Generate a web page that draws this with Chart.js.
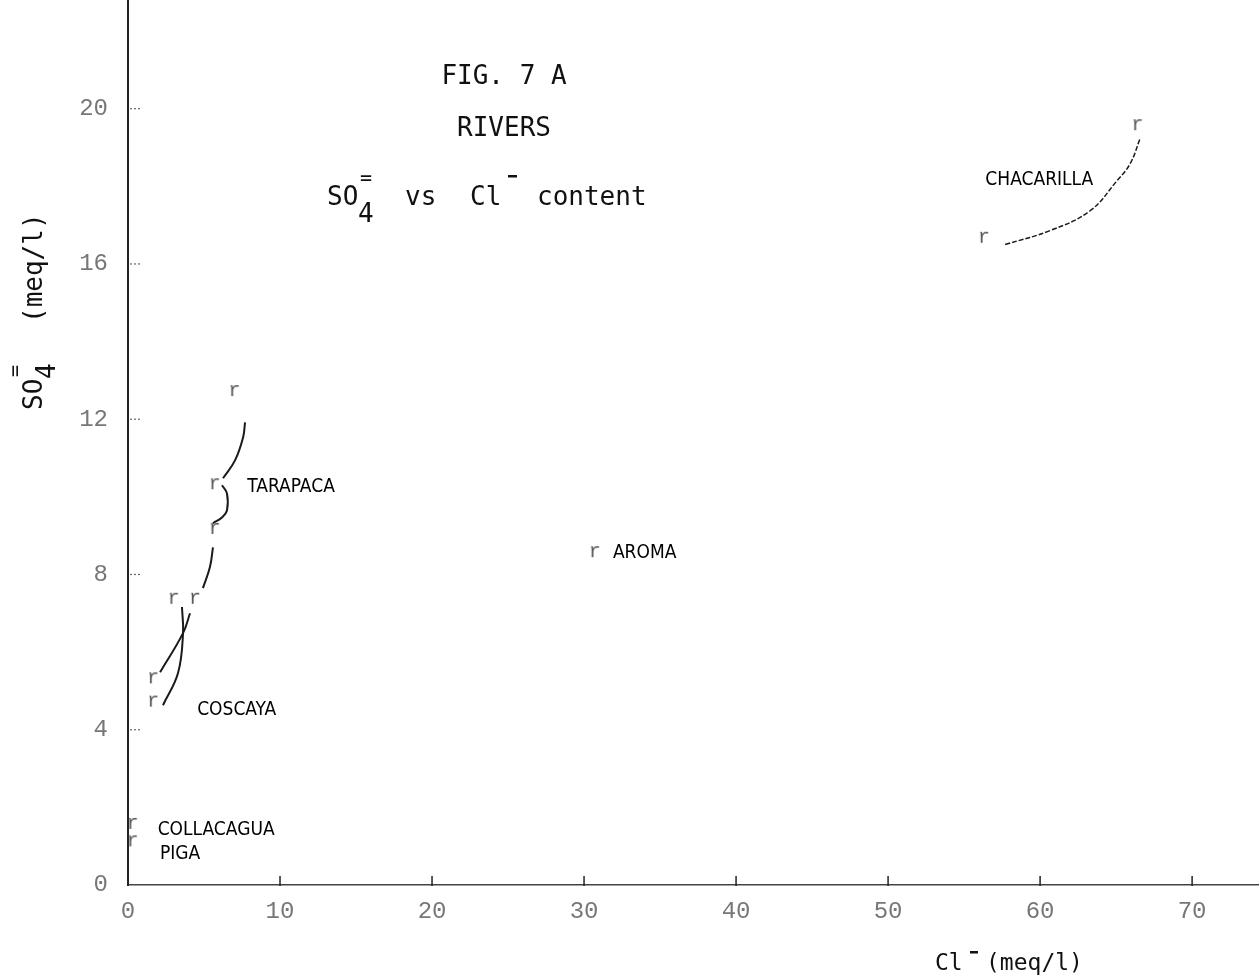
<!DOCTYPE html>
<html>
<head>
<meta charset="utf-8">
<script src="https://cdn.jsdelivr.net/npm/chart.js@4.4.0/dist/chart.umd.min.js"></script>
<style>
  html, body { margin: 0; padding: 0; background: #fff; }
  #wrap { width: 1259px; height: 979px; }
</style>
</head>
<body>
<div id="wrap"><canvas id="riversChart" width="1259" height="979"></canvas></div>
<script>
// axis ticks and ranges
const xTicks = [0, 10, 20, 30, 40, 50, 60, 70];
const yTicks = [0, 4, 8, 12, 16, 20];
const xMax = 74.4;
const yMax = 22.8;

// samples: Cl- (x) vs SO4= (y), meq/l
const tarapacaPts = [
  { x: 7.0, y: 12.75 },
  { x: 5.7, y: 10.35 },
  { x: 5.7, y: 9.2 },
  { x: 3.0, y: 7.4 },
  { x: 4.4, y: 7.4 }
];
const coscayaPts = [
  { x: 1.65, y: 5.35 },
  { x: 1.65, y: 4.75 }
];
const aromaPts = [{ x: 30.7, y: 8.6 }];
const chacarillaPts = [
  { x: 66.4, y: 19.6 },
  { x: 56.3, y: 16.7 }
];
const collacaguaPts = [{ x: 0.3, y: 1.6 }];
const pigaPts = [{ x: 0.3, y: 1.15 }];

// hand drawn connecting curves (meq/l)
const tarapacaCurve1 = [
  { x: 7.7, y: 11.92 }, { x: 7.57, y: 11.53 }, { x: 7.04, y: 10.94 }, { x: 6.25, y: 10.48 }
];
const tarapacaCurve2 = [
  { x: 6.18, y: 10.3 }, { x: 6.51, y: 10.09 }, { x: 6.51, y: 9.65 }, { x: 6.18, y: 9.47 }, { x: 5.59, y: 9.32 }
];
const tarapacaCurve3 = [
  { x: 5.59, y: 8.7 }, { x: 5.39, y: 8.19 }, { x: 4.93, y: 7.65 }
];
const coscayaCurveA = [
  { x: 3.55, y: 7.16 }, { x: 3.62, y: 6.49 }, { x: 3.29, y: 5.46 }, { x: 2.3, y: 4.63 }
];
const coscayaCurveB = [
  { x: 4.08, y: 7.0 }, { x: 3.62, y: 6.49 }, { x: 2.11, y: 5.48 }
];
const chacarillaCurve = [
  { x: 57.7, y: 16.5 }, { x: 60.66, y: 16.86 }, { x: 63.29, y: 17.37 },
  { x: 65.07, y: 18.15 }, { x: 65.92, y: 18.58 }, { x: 66.58, y: 19.23 }
];

// river names, anchored at left edge / middle
const riverLabels = [
  { text: 'TARAPACA', x: 7.85, y: 10.25 },
  { text: 'COSCAYA', x: 4.55, y: 4.5 },
  { text: 'AROMA', x: 31.9, y: 8.55 },
  { text: 'CHACARILLA', x: 56.4, y: 18.15 },
  { text: 'COLLACAGUA', x: 1.95, y: 1.42 },
  { text: 'PIGA', x: 2.1, y: 0.8 }
];

const monoFont = "'DejaVu Sans Mono', 'Liberation Mono', monospace";
const narrowFont = "'Liberation Sans Narrow', 'DejaVu Sans Condensed', 'Roboto', sans-serif";

// "r" glyph used as the point marker
function makeMarker() {
  const c = document.createElement('canvas');
  c.width = 18;
  c.height = 22;
  const g = c.getContext('2d');
  g.fillStyle = '#555';
  g.font = "20px 'Liberation Mono', monospace";
  g.textAlign = 'center';
  g.textBaseline = 'middle';
  g.fillText('r', 9, 12);
  return c;
}
const marker = makeMarker();

function pts(data) {
  return { data, pointStyle: marker, pointRadius: 9, showLine: false };
}
function curve(data, dash) {
  return {
    data,
    showLine: true,
    tension: 0.4,
    pointRadius: 0,
    borderColor: '#1a1a1a',
    borderWidth: dash ? 1.5 : 2,
    borderDash: dash || []
  };
}

const annotate = {
  id: 'annotate',
  afterDatasetsDraw(chart) {
    const { ctx, scales: { x, y }, chartArea } = chart;
    ctx.save();

    // tick marks inside the plot
    ctx.strokeStyle = '#222';
    ctx.lineWidth = 1.5;
    xTicks.slice(1).forEach(v => {
      const px = x.getPixelForValue(v);
      ctx.beginPath();
      ctx.moveTo(px, chartArea.bottom - 9);
      ctx.lineTo(px, chartArea.bottom + 1);
      ctx.stroke();
    });
    ctx.strokeStyle = '#666';
    ctx.lineWidth = 1.2;
    ctx.setLineDash([2, 2]);
    yTicks.slice(1).forEach(v => {
      const py = y.getPixelForValue(v);
      ctx.beginPath();
      ctx.moveTo(chartArea.left + 2, py);
      ctx.lineTo(chartArea.left + 12, py);
      ctx.stroke();
    });
    ctx.setLineDash([]);

    // river names
    ctx.fillStyle = '#000';
    ctx.font = '19px ' + narrowFont;
    ctx.textAlign = 'left';
    ctx.textBaseline = 'middle';
    riverLabels.forEach(l => {
      ctx.fillText(l.text, x.getPixelForValue(l.x), y.getPixelForValue(l.y));
    });

    // figure title
    ctx.fillStyle = '#111';
    ctx.font = '26px ' + monoFont;
    ctx.textAlign = 'center';
    ctx.textBaseline = 'alphabetic';
    ctx.fillText('FIG. 7 A', 504, 84);
    ctx.fillText('RIVERS', 504, 136);
    ctx.textAlign = 'left';
    ctx.fillText('SO', 327, 205);
    ctx.fillText('4', 358, 222);
    ctx.fillText('vs', 405, 205);
    ctx.fillText('Cl', 470, 205);
    ctx.fillText('content', 537, 205);
    ctx.font = '20px ' + monoFont;
    ctx.fillText('=', 360, 184);
    ctx.fillRect(508, 175, 9, 2.5);

    // x axis title
    ctx.font = '23px ' + monoFont;
    ctx.fillText('Cl', 935, 970);
    ctx.fillRect(970, 951, 8, 2.5);
    ctx.fillText('(meq/l)', 986, 970);

    // y axis title, rotated
    ctx.font = '26px ' + monoFont;
    ctx.translate(42, 410);
    ctx.rotate(-Math.PI / 2);
    ctx.fillText('SO', 0, 0);
    ctx.fillText('4', 31, 13);
    ctx.font = '20px ' + monoFont;
    ctx.fillText('=', 33, -21);
    ctx.font = '26px ' + monoFont;
    ctx.fillText('(meq/l)', 87, 0);

    ctx.restore();
  }
};

new Chart(document.getElementById('riversChart'), {
  type: 'scatter',
  data: {
    datasets: [
      pts(tarapacaPts),
      pts(coscayaPts),
      pts(aromaPts),
      pts(chacarillaPts),
      pts(collacaguaPts),
      pts(pigaPts),
      curve(tarapacaCurve1),
      curve(tarapacaCurve2),
      curve(tarapacaCurve3),
      curve(coscayaCurveA),
      curve(coscayaCurveB),
      curve(chacarillaCurve, [5, 2])
    ]
  },
  options: {
    responsive: false,
    devicePixelRatio: 1,
    animation: false,
    layout: { padding: 0, autoPadding: false },
    plugins: {
      legend: { display: false },
      tooltip: { enabled: false }
    },
    scales: {
      x: {
        type: 'linear',
        min: 0,
        max: xMax,
        afterBuildTicks: s => { s.ticks = xTicks.map(v => ({ value: v })); },
        afterFit: s => {
          s.height = 94;
          s.paddingLeft = 0;
          s.paddingRight = 0;
        },
        grid: { display: false, drawTicks: false },
        border: { display: true, color: '#444', width: 1.5, dash: [1.5, 2.5] },
        ticks: {
          padding: 12,
          color: '#777',
          font: { family: "'Liberation Mono', monospace", size: 24 },
          callback: v => String(v)
        }
      },
      y: {
        type: 'linear',
        min: 0,
        max: yMax,
        afterBuildTicks: s => { s.ticks = yTicks.map(v => ({ value: v })); },
        afterFit: s => {
          s.width = 128;
          s.paddingTop = 0;
          s.paddingBottom = 0;
        },
        grid: { display: false, drawTicks: false },
        border: { display: true, color: '#222', width: 2 },
        ticks: {
          padding: 20,
          color: '#777',
          font: { family: "'Liberation Mono', monospace", size: 24 },
          callback: v => String(v)
        }
      }
    }
  },
  plugins: [annotate]
});
</script>
</body>
</html>
